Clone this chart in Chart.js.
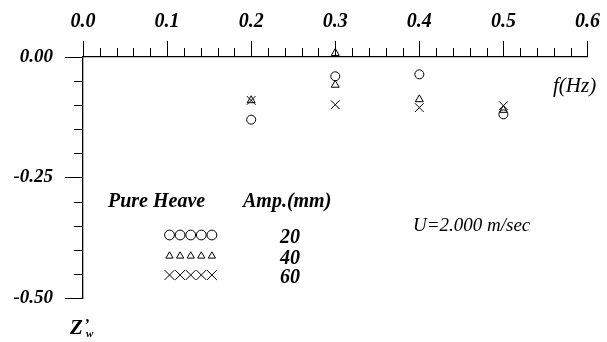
<!DOCTYPE html>
<html>
<head>
<meta charset="utf-8">
<script src="https://cdn.jsdelivr.net/npm/chart.js@4"></script>
<style>
  body { margin: 0; background: #fff; }
  canvas { display: block; }
</style>
</head>
<body>
<canvas id="chart" width="607" height="342"></canvas>
<script>
// values: heave-induced Z'w against frequency
const amp20X = [0.2, 0.3, 0.4, 0.5];
const amp20Y = [-0.130, -0.040, -0.036, -0.119];
const amp40X = [0.2, 0.3, 0.3, 0.4, 0.5];
const amp40Y = [-0.090, 0.008, -0.058, -0.088, -0.110];
const amp60X = [0.2, 0.3, 0.4, 0.5];
const amp60Y = [-0.090, -0.099, -0.105, -0.101];
const ampLabels = ['20', '40', '60'];
const xMin = 0, xMax = 0.6, xStep = 0.1, xMinor = 0.02;
const yMin = -0.5, yMax = 0, yStep = 0.25, yMinor = 0.05;

const SERIF = "'Liberation Serif', 'Times New Roman', serif";

function pts(xs, ys) {
    return xs.map((x, i) => ({ x: x, y: ys[i] }));
}

// minor ticks + all the loose text on the figure
const extras = {
    id: 'extras',
    afterDraw(chart) {
        const ctx = chart.ctx;
        const xs = chart.scales.x, ys = chart.scales.y;
        const top = chart.chartArea.top, left = chart.chartArea.left;
        ctx.save();
        ctx.strokeStyle = '#000';
        ctx.lineWidth = 1;
        ctx.beginPath();
        for (let v = xMin; v <= xMax + 1e-9; v += xMinor) {
            const r = Math.round(v * 100);
            if (r % 10 === 0) continue;
            const px = Math.round(xs.getPixelForValue(v)) + 0.5;
            ctx.moveTo(px, top);
            ctx.lineTo(px, top - 9);
        }
        for (let v = yMax; v >= yMin - 1e-9; v -= yMinor) {
            const r = Math.round(v * 100);
            if (r % 25 === 0) continue;
            const py = Math.round(ys.getPixelForValue(v)) + 0.5;
            ctx.moveTo(left, py);
            ctx.lineTo(left - 9, py);
        }
        ctx.stroke();

        ctx.fillStyle = '#000';
        ctx.textBaseline = 'alphabetic';
        ctx.textAlign = 'left';
        ctx.font = 'italic 21px ' + SERIF;
        ctx.fillText('f(Hz)', 553, 92);
        ctx.font = 'italic 19px ' + SERIF;
        ctx.fillText('U=2.000 m/sec', 413, 231);
        ctx.font = 'italic bold 20px ' + SERIF;
        ctx.fillText('Pure Heave', 108, 207);
        ctx.fillText('Amp.(mm)', 243, 207);

        // legend rows: five hollow markers of each dataset, then the amplitude
        const rowsY = [235, 256, 275];
        const legendR = [4.9, 4.2, 7];
        chart.data.datasets.forEach((ds, i) => {
            for (let k = 0; k < 5; k++) {
                ctx.fillStyle = 'rgba(0,0,0,0)';
                ctx.strokeStyle = '#000';
                ctx.lineWidth = 1;
                Chart.helpers.drawPoint(ctx, {
                    pointStyle: ds.pointStyle, radius: legendR[i], borderWidth: 1
                }, 169.5 + k * 10.6, rowsY[i]);
            }
            ctx.fillStyle = '#000';
            ctx.font = 'italic bold 20px ' + SERIF;
            ctx.fillText(ampLabels[i], 280, rowsY[i] + 8);
        });

        // Z'w axis name
        ctx.fillStyle = '#000';
        ctx.font = 'italic bold 21px ' + SERIF;
        ctx.fillText('Z', 70, 334);
        ctx.font = 'italic bold 16px ' + SERIF;
        ctx.fillText('\u2019', 84, 330);
        ctx.font = 'italic bold 11px ' + SERIF;
        ctx.fillText('w', 86, 337);
        ctx.restore();
    }
};

const marker = { borderColor: '#000', backgroundColor: 'rgba(0,0,0,0)', borderWidth: 1, showLine: false, clip: false };

new Chart(document.getElementById('chart').getContext('2d'), {
    type: 'scatter',
    data: {
        datasets: [
            Object.assign({ label: '20', data: pts(amp20X, amp20Y), pointStyle: 'circle', pointRadius: 4.5 }, marker),
            Object.assign({ label: '40', data: pts(amp40X, amp40Y), pointStyle: 'triangle', pointRadius: 4.6 }, marker),
            Object.assign({ label: '60', data: pts(amp60X, amp60Y), pointStyle: 'crossRot', pointRadius: 6.2 }, marker)
        ]
    },
    options: {
        responsive: false,
        animation: false,
        layout: { padding: { left: 0, top: 0, right: 15, bottom: 44 } },
        plugins: { legend: { display: false }, tooltip: { enabled: false } },
        scales: {
            x: {
                type: 'linear', position: 'top', min: xMin, max: xMax,
                afterFit: s => { s.height = 57; },
                grid: { drawOnChartArea: false, drawTicks: true, tickLength: 16, color: '#000', lineWidth: 1 },
                border: { display: true, color: '#000', width: 1.3 },
                ticks: {
                    stepSize: xStep, padding: 7, color: '#000',
                    font: { family: SERIF, size: 20, style: 'italic', weight: 'bold' },
                    callback: v => v.toFixed(1)
                }
            },
            y: {
                type: 'linear', position: 'left', min: yMin, max: yMax,
                afterFit: s => { s.width = 83; },
                grid: { drawOnChartArea: false, drawTicks: true, tickLength: 18, color: '#000', lineWidth: 1 },
                border: { display: true, color: '#000', width: 1.3 },
                ticks: {
                    stepSize: yStep, padding: 12, color: '#000',
                    font: { family: SERIF, size: 19, style: 'italic', weight: 'bold' },
                    callback: v => v.toFixed(2)
                }
            }
        }
    },
    plugins: [extras]
});
</script>
</body>
</html>
